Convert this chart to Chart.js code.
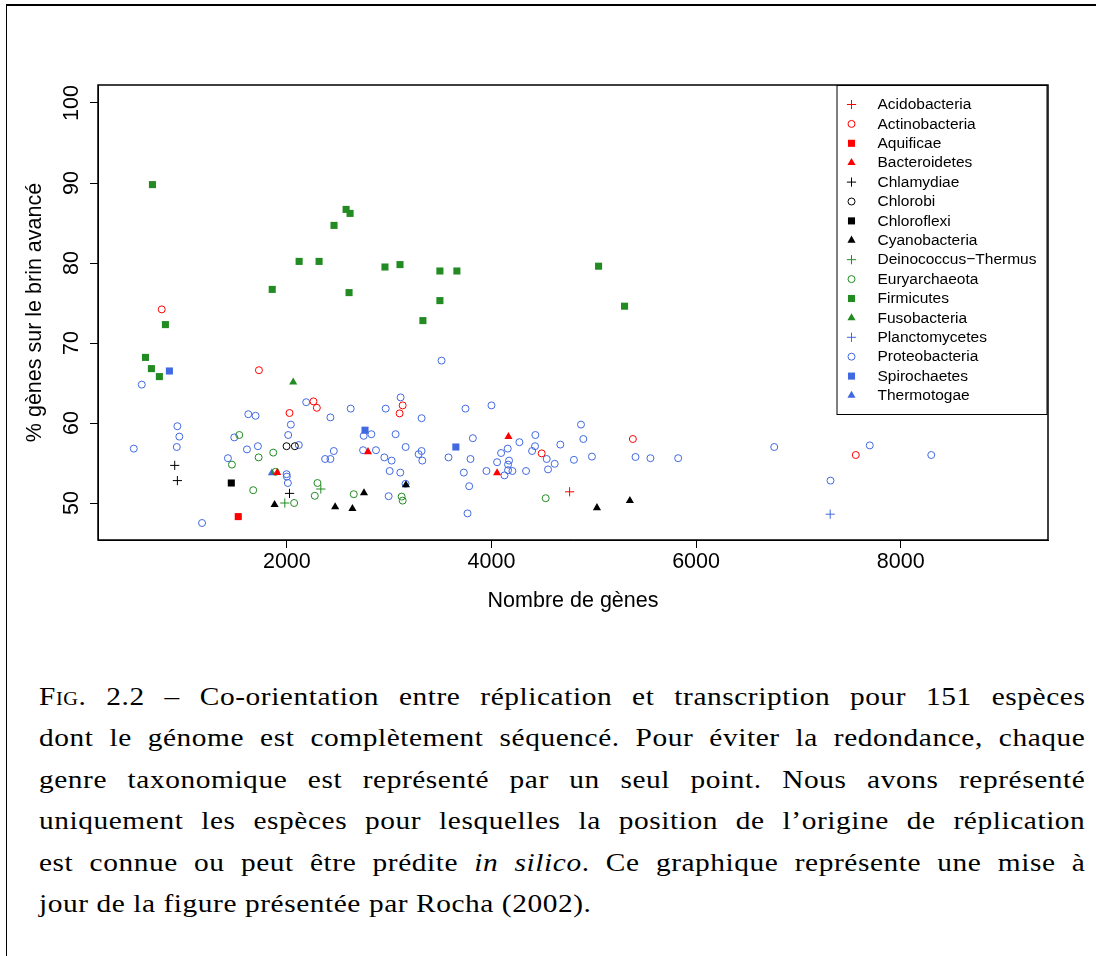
<!DOCTYPE html>
<html>
<head>
<meta charset="utf-8">
<script src="https://cdn.jsdelivr.net/npm/chart.js@4.4.0/dist/chart.umd.min.js"></script>
<style>
  html, body { margin: 0; padding: 0; background: #fff; }
  #page { position: relative; width: 1096px; height: 956px; overflow: hidden; }
  #frame { position: absolute; left: 6px; top: 4px; width: 1200px; height: 1000px; border-top: 2px solid #000; border-left: 1.5px solid #000; }
  #chart { position: absolute; left: 0; top: 0; }
  #caption { position: absolute; left: 39px; width: 926px; top: 676px; transform: scaleX(1.13); transform-origin: 0 0;
    font-family: "Liberation Serif", "Times New Roman", serif; font-size: 26px; line-height: 41.4px; letter-spacing: 0.5px; color: #000; }
  #caption div { text-align: justify; text-align-last: justify; }
  #caption div.last { text-align: left; text-align-last: left; }
  .sc { font-variant: small-caps; }
</style>
</head>
<body>
<div id="page">
  <div id="frame"></div>
  <canvas id="chart" width="1096" height="640"></canvas>
  <div id="caption">
    <div><span class="sc">Fig.</span> 2.2 – Co-orientation entre réplication et transcription pour 151 espèces</div>
    <div>dont le génome est complètement séquencé. Pour éviter la redondance, chaque</div>
    <div>genre taxonomique est représenté par un seul point. Nous avons représenté</div>
    <div>uniquement les espèces pour lesquelles la position de l’origine de réplication</div>
    <div>est connue ou peut être prédite <i>in silico</i>. Ce graphique représente une mise à</div>
    <div class="last">jour de la figure présentée par Rocha (2002).</div>
  </div>
</div>
<script>
// phyla, in legend order
const phyla = ['Acidobacteria', 'Actinobacteria', 'Aquificae', 'Bacteroidetes', 'Chlamydiae', 'Chlorobi',
  'Chloroflexi', 'Cyanobacteria', 'Deinococcus\u2212Thermus', 'Euryarchaeota', 'Firmicutes', 'Fusobacteria',
  'Planctomycetes', 'Proteobacteria', 'Spirochaetes', 'Thermotogae'];

// [nombre de genes, % genes sur le brin avance]
const acidobacteria = [[4764, 51.4]];
const actinobacteria = [[777, 74.2], [1727, 66.6], [2260, 62.7], [2293, 61.9], [2026, 61.25], [3132, 62.2],
  [3102, 61.2], [4491, 56.2], [5382, 58.0], [7561, 56.0]];
const aquificae = [[1525, 48.3]];
const bacteroidetes = [[2793, 56.4], [1906, 53.8], [4166, 58.3], [4055, 53.75]];
const chlamydiae = [[904, 54.7], [930, 52.8], [2026, 51.2]];
const chlorobi = [[1997, 57.1], [2078, 57.1]];
const chloroflexi = [[1457, 52.5]];
const cyanobacteria = [[1880, 49.8], [2472, 49.5], [2641, 49.3], [2754, 51.25], [3164, 52.25], [5031, 49.4], [5353, 50.3]];
const deinococcus = [[1980, 50.0], [2332, 51.75]];
const euryarchaeota = [[1535, 58.5], [1463, 54.8], [1724, 55.7], [1867, 56.3], [1890, 53.9], [1671, 51.6],
  [2071, 50.0], [2299, 52.5], [2273, 50.9], [2654, 51.1], [3122, 50.8], [3132, 50.3], [4530, 50.6]];
const firmicutes = [[686, 89.8], [2579, 86.7], [2618, 86.2], [2461, 84.7], [2120, 80.2], [2315, 80.2],
  [2959, 79.5], [1857, 76.7], [2608, 76.3], [3106, 79.8], [3496, 79.0], [3662, 79.0], [3496, 75.3],
  [3330, 72.8], [5047, 79.6], [5301, 74.6], [813, 72.3], [618, 68.2], [676, 66.8], [754, 65.8]];
const fusobacteria = [[2062, 65.1]];
const planctomycetes = [[7311, 48.6]];
const proteobacteria = [[582, 64.8], [2189, 62.6], [2624, 61.8], [2966, 61.8], [2426, 60.7], [1623, 61.1],
  [1694, 60.9], [2039, 59.8], [930, 59.6], [949, 58.3], [2013, 58.5], [1486, 58.2], [2751, 58.4], [2826, 58.6],
  [504, 56.8], [924, 57.0], [2117, 57.25], [1610, 56.7], [1717, 57.1], [2459, 56.5], [2374, 55.5], [2426, 55.5],
  [2745, 56.6], [2871, 56.6], [2953, 55.7], [1424, 55.6], [1997, 53.6], [2000, 53.3], [2010, 52.5],
  [2995, 50.85], [1171, 47.5], [3512, 67.8], [3112, 63.2], [3746, 61.8], [4000, 62.2], [3317, 60.6],
  [3063, 58.6], [3161, 57.0], [3818, 58.1], [3317, 56.5], [3288, 56.1], [3324, 55.3], [3024, 55.3],
  [3580, 55.7], [3795, 55.5], [3005, 54.0], [3109, 53.8], [3160, 52.4], [3730, 53.8], [3782, 52.1],
  [3766, 48.7], [3951, 54.0], [4055, 55.1], [4094, 56.25], [4159, 56.8], [4172, 55.3], [4162, 54.8],
  [4162, 54.1], [4205, 54.0], [4127, 53.45], [4273, 57.6], [4338, 54.0], [4429, 58.5], [4426, 57.1],
  [4397, 56.5], [4540, 55.5], [4553, 54.2], [4618, 54.9], [4673, 57.3], [4875, 59.8], [4898, 58.0],
  [4806, 55.4], [4982, 55.8], [5408, 55.75], [5554, 55.6], [5825, 55.6], [6764, 57.0], [7314, 52.8],
  [7698, 57.2], [8299, 56.0]];
const spirochaetes = [[852, 66.5], [2764, 59.1], [3652, 57.0]];
const thermotogae = [[1854, 53.75]];

const xTicks = [2000, 4000, 6000, 8000];
const yTicks = [50, 60, 70, 80, 90, 100];

const series = [acidobacteria, actinobacteria, aquificae, bacteroidetes, chlamydiae, chlorobi, chloroflexi,
  cyanobacteria, deinococcus, euryarchaeota, firmicutes, fusobacteria, planctomycetes, proteobacteria,
  spirochaetes, thermotogae];

// R colours / pch
const RED = '#ff0000', BLACK = '#000000', GREEN = '#228b22', BLUE = '#4169e1';
const colors = [RED, RED, RED, RED, BLACK, BLACK, BLACK, BLACK, GREEN, GREEN, GREEN, GREEN, BLUE, BLUE, BLUE, BLUE];
const shapes = ['cross', 'circle', 'rect', 'triangle'];
const sizes = {cross: 4.6, circle: 3.5, rect: 5, triangle: 4.7};

const datasets = phyla.map((name, i) => {
  const shape = shapes[i % 4];
  return {
    label: name,
    data: series[i].map(p => ({x: p[0], y: p[1]})),
    pointStyle: shape,
    pointRadius: sizes[shape],
    pointHoverRadius: sizes[shape],
    pointBorderColor: colors[i],
    pointBackgroundColor: shape === 'circle' ? 'rgba(0,0,0,0)' : colors[i],
    pointBorderWidth: (shape === 'circle' || shape === 'cross') ? 1 : 0,
    showLine: false
  };
});

const SANS = '"Liberation Sans", Arial, Helvetica, sans-serif';

function drawSymbol(ctx, ds, x, y) {
  const opts = {pointStyle: ds.pointStyle, radius: ds.pointRadius, borderWidth: ds.pointBorderWidth, rotation: 0};
  ctx.fillStyle = ds.pointBackgroundColor;
  ctx.strokeStyle = ds.pointBorderColor;
  ctx.lineWidth = ds.pointBorderWidth;
  Chart.helpers.drawPoint(ctx, opts, x, y);
}

const boxLegend = {
  id: 'boxLegend',
  afterDatasetsDraw(chart) {
    const ctx = chart.ctx, a = chart.chartArea;
    const w = 210, h = 329;
    const left = a.right - w - 1.5, top = a.top;
    ctx.save();
    ctx.fillStyle = '#fff';
    ctx.fillRect(left, top, w, h);
    ctx.strokeStyle = '#000';
    ctx.lineWidth = 1;
    ctx.strokeRect(left + 0.5, top + 0.5, w, h);
    ctx.font = '15.5px ' + SANS;
    ctx.textBaseline = 'middle';
    chart.data.datasets.forEach((ds, i) => {
      const y = top + 19.5 + i * 19.4;
      drawSymbol(ctx, ds, left + 15, y);
      ctx.fillStyle = '#000';
      ctx.fillText(ds.label, left + 41, y + 0.5);
    });
    ctx.restore();
  }
};

const plotBox = {
  id: 'plotBox',
  afterDraw(chart) {
    const ctx = chart.ctx, a = chart.chartArea;
    ctx.save();
    ctx.strokeStyle = '#000';
    ctx.lineWidth = 1.5;
    ctx.strokeRect(a.left, a.top, a.right - a.left, a.bottom - a.top);
    ctx.restore();
  }
};

new Chart(document.getElementById('chart'), {
  type: 'scatter',
  data: { datasets: datasets },
  options: {
    responsive: false,
    animation: false,
    events: [],
    layout: { padding: { left: 0, right: 48, top: 85, bottom: 0 } },
    plugins: { legend: { display: false }, tooltip: { enabled: false } },
    scales: {
      x: {
        type: 'linear',
        min: 154,
        max: 9440,
        afterBuildTicks: s => { s.ticks = xTicks.map(v => ({value: v})); },
        afterFit: s => { s.height = 100; },
        grid: { drawOnChartArea: false, drawTicks: true, tickLength: 8, color: '#000', lineWidth: 1 },
        border: { display: true, color: '#000', width: 1 },
        ticks: { color: '#000', font: { family: SANS, size: 21.5 }, padding: 1, maxRotation: 0, autoSkip: false,
          callback: v => String(v) },
        title: { display: true, text: 'Nombre de gènes', color: '#000', font: { family: SANS, size: 21.5 },
          padding: { top: 0, bottom: 26 } }
      },
      y: {
        type: 'linear',
        min: 45.375,
        max: 102.25,
        afterBuildTicks: s => { s.ticks = yTicks.map(v => ({value: v})); },
        afterFit: s => { s.width = 98; },
        grid: { drawOnChartArea: false, drawTicks: true, tickLength: 8, color: '#000', lineWidth: 1 },
        border: { display: true, color: '#000', width: 1 },
        ticks: { color: '#000', font: { family: SANS, size: 21.5 }, padding: 0, minRotation: 90, maxRotation: 90,
          crossAlign: 'center', autoSkip: false, callback: v => String(v) },
        title: { display: true, text: '% gènes sur le brin avancé', color: '#000', font: { family: SANS, size: 21.5 },
          padding: { top: 22, bottom: 0 } }
      }
    }
  },
  plugins: [boxLegend, plotBox]
});
</script>
</body>
</html>
